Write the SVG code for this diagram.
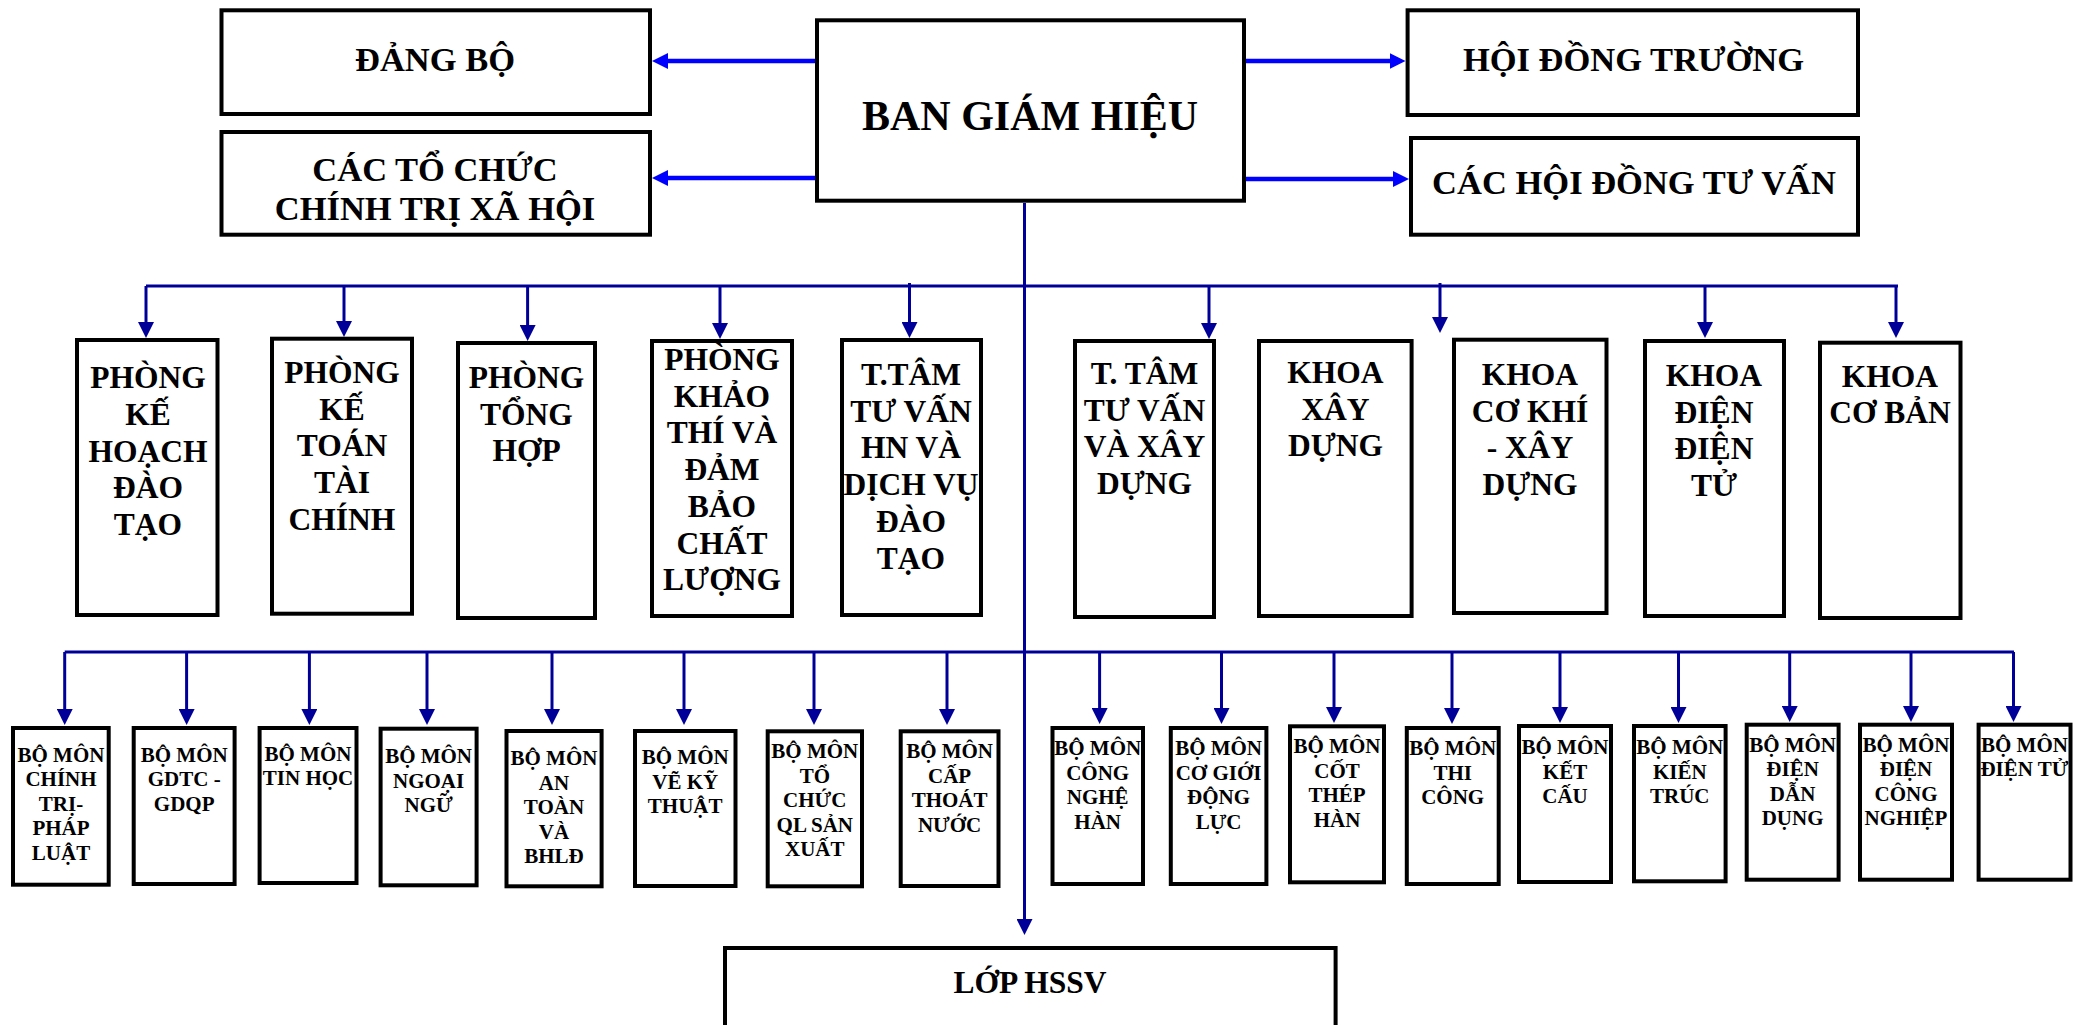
<svg xmlns="http://www.w3.org/2000/svg" width="2086" height="1025" viewBox="0 0 2086 1025">
<style>
.box{fill:#fff;stroke:#000;stroke-width:4}
.t{font-family:"Liberation Serif","Times New Roman",serif;font-weight:bold;text-anchor:middle;fill:#000}
.f42{font-size:42px}
.f34{font-size:34.5px}
.f31{font-size:31.5px}
.f21{font-size:21px}
.c{stroke:#000099;stroke-width:3;fill:none}
.cb{stroke:#0000FF;stroke-width:4.5;fill:none}
</style>
<defs>
<marker id="ah" markerUnits="userSpaceOnUse" markerWidth="16" markerHeight="16" refX="8" refY="8" orient="auto"><path d="M0,0 L16,8 L0,16 z" fill="#000099"/></marker>
<marker id="ahb" markerUnits="userSpaceOnUse" markerWidth="16" markerHeight="16" refX="8" refY="8" orient="auto"><path d="M0,0 L16,8 L0,16 z" fill="#0000FF"/></marker>
</defs>
<rect width="2086" height="1025" fill="#fff"/>

<g id="connectors">
<line class="cb" x1="815" y1="61" x2="660" y2="61" marker-end="url(#ahb)"/>
<line class="cb" x1="815" y1="178" x2="660" y2="178" marker-end="url(#ahb)"/>
<line class="cb" x1="1246" y1="61" x2="1397.5" y2="61" marker-end="url(#ahb)"/>
<line class="cb" x1="1244" y1="179" x2="1401" y2="179" marker-end="url(#ahb)"/>
<line class="c" x1="1024.5" y1="203" x2="1024.5" y2="927" marker-end="url(#ah)"/>
<line class="c" x1="146" y1="286" x2="1898" y2="286"/>
<line class="c" x1="146" y1="286" x2="146" y2="330" marker-end="url(#ah)"/>
<line class="c" x1="344" y1="286" x2="344" y2="329" marker-end="url(#ah)"/>
<line class="c" x1="527.6" y1="286" x2="527.6" y2="333" marker-end="url(#ah)"/>
<line class="c" x1="720" y1="286" x2="720" y2="331" marker-end="url(#ah)"/>
<line class="c" x1="909.5" y1="283" x2="909.5" y2="330" marker-end="url(#ah)"/>
<line class="c" x1="1209" y1="286" x2="1209" y2="331" marker-end="url(#ah)"/>
<line class="c" x1="1440" y1="283" x2="1440" y2="325" marker-end="url(#ah)"/>
<line class="c" x1="1705" y1="286" x2="1705" y2="330" marker-end="url(#ah)"/>
<line class="c" x1="1896" y1="286" x2="1896" y2="330" marker-end="url(#ah)"/>
<line class="c" x1="64.7" y1="652" x2="2014" y2="652"/>
<line class="c" x1="64.7" y1="652" x2="64.7" y2="717" marker-end="url(#ah)"/>
<line class="c" x1="186.6" y1="652" x2="186.6" y2="717" marker-end="url(#ah)"/>
<line class="c" x1="309.4" y1="652" x2="309.4" y2="717" marker-end="url(#ah)"/>
<line class="c" x1="427" y1="652" x2="427" y2="717" marker-end="url(#ah)"/>
<line class="c" x1="552" y1="652" x2="552" y2="717" marker-end="url(#ah)"/>
<line class="c" x1="684" y1="652" x2="684" y2="717" marker-end="url(#ah)"/>
<line class="c" x1="814" y1="652" x2="814" y2="717" marker-end="url(#ah)"/>
<line class="c" x1="947" y1="652" x2="947" y2="717" marker-end="url(#ah)"/>
<line class="c" x1="1099.6" y1="652" x2="1099.6" y2="716" marker-end="url(#ah)"/>
<line class="c" x1="1221.5" y1="652" x2="1221.5" y2="716" marker-end="url(#ah)"/>
<line class="c" x1="1334" y1="652" x2="1334" y2="715" marker-end="url(#ah)"/>
<line class="c" x1="1452" y1="652" x2="1452" y2="716" marker-end="url(#ah)"/>
<line class="c" x1="1560" y1="652" x2="1560" y2="715" marker-end="url(#ah)"/>
<line class="c" x1="1678.5" y1="652" x2="1678.5" y2="715" marker-end="url(#ah)"/>
<line class="c" x1="1789.7" y1="652" x2="1789.7" y2="714" marker-end="url(#ah)"/>
<line class="c" x1="1911" y1="652" x2="1911" y2="714" marker-end="url(#ah)"/>
<line class="c" x1="2013.5" y1="652" x2="2013.5" y2="714" marker-end="url(#ah)"/>
</g>

<g id="dang-bo"><rect class="box" x="221.5" y="10.3" width="428.5" height="103.7"/><text class="t f34" x="435" y="71">ĐẢNG BỘ</text></g>
<g id="to-chuc"><rect class="box" x="221.5" y="132" width="428.5" height="102.7"/><text class="t f34" x="435"><tspan x="435" y="181">CÁC TỔ CHỨC</tspan><tspan x="435" y="220">CHÍNH TRỊ XÃ HỘI</tspan></text></g>
<g id="ban-giam-hieu"><rect class="box" x="817" y="20.3" width="427" height="180.4"/><text class="t f42" x="1030" y="130">BAN GIÁM HIỆU</text></g>
<g id="hoi-dong-truong"><rect class="box" x="1407.6" y="10.3" width="450.4" height="104.7"/><text class="t f34" x="1633.5" y="71">HỘI ĐỒNG TRƯỜNG</text></g>
<g id="hoi-dong-tu-van"><rect class="box" x="1411" y="138" width="447" height="96.7"/><text class="t f34" x="1634" y="194">CÁC HỘI ĐỒNG TƯ VẤN</text></g>

<g id="phong-kh-dt"><rect class="box" x="77" y="340" width="140.5" height="275"/><text class="t f31"><tspan x="148" y="388.3">PHÒNG</tspan><tspan x="148" y="425">KẾ</tspan><tspan x="148" y="461.7">HOẠCH</tspan><tspan x="148" y="498.4">ĐÀO</tspan><tspan x="148" y="535.1">TẠO</tspan></text></g>
<g id="phong-kt-tc"><rect class="box" x="272" y="338.7" width="140" height="275"/><text class="t f31"><tspan x="342" y="383">PHÒNG</tspan><tspan x="342" y="419.7">KẾ</tspan><tspan x="342" y="456.4">TOÁN</tspan><tspan x="342" y="493.1">TÀI</tspan><tspan x="342" y="529.8">CHÍNH</tspan></text></g>
<g id="phong-th"><rect class="box" x="458" y="343" width="137" height="275"/><text class="t f31"><tspan x="526.5" y="388">PHÒNG</tspan><tspan x="526.5" y="424.7">TỔNG</tspan><tspan x="526.5" y="461.4">HỢP</tspan></text></g>
<g id="phong-kt-dbcl"><rect class="box" x="652" y="341" width="140" height="275"/><text class="t f31"><tspan x="722" y="370">PHÒNG</tspan><tspan x="722" y="406.7">KHẢO</tspan><tspan x="722" y="443.4">THÍ VÀ</tspan><tspan x="722" y="480.1">ĐẢM</tspan><tspan x="722" y="516.8">BẢO</tspan><tspan x="722" y="553.5">CHẤT</tspan><tspan x="722" y="590.2">LƯỢNG</tspan></text></g>
<g id="ttam-tv-hn"><rect class="box" x="842" y="340" width="139" height="275"/><text class="t f31"><tspan x="911" y="385">T.TÂM</tspan><tspan x="911" y="421.7">TƯ VẤN</tspan><tspan x="911" y="458.4">HN VÀ</tspan><tspan x="911" y="495.1">DỊCH VỤ</tspan><tspan x="911" y="531.8">ĐÀO</tspan><tspan x="911" y="568.5">TẠO</tspan></text></g>
<g id="ttam-tv-xd"><rect class="box" x="1075" y="341" width="139" height="276"/><text class="t f31"><tspan x="1144.5" y="384">T. TÂM</tspan><tspan x="1144.5" y="420.7">TƯ VẤN</tspan><tspan x="1144.5" y="457.4">VÀ XÂY</tspan><tspan x="1144.5" y="494.1">DỰNG</tspan></text></g>
<g id="khoa-xd"><rect class="box" x="1259" y="341" width="152.6" height="275"/><text class="t f31"><tspan x="1335.5" y="383">KHOA</tspan><tspan x="1335.5" y="419.7">XÂY</tspan><tspan x="1335.5" y="456.4">DỰNG</tspan></text></g>
<g id="khoa-ck-xd"><rect class="box" x="1454" y="339.7" width="152.5" height="273.3"/><text class="t f31"><tspan x="1530" y="385">KHOA</tspan><tspan x="1530" y="421.7">CƠ KHÍ</tspan><tspan x="1530" y="458.4">- XÂY</tspan><tspan x="1530" y="495.1">DỰNG</tspan></text></g>
<g id="khoa-ddt"><rect class="box" x="1645" y="341" width="139" height="275"/><text class="t f31"><tspan x="1714" y="386">KHOA</tspan><tspan x="1714" y="422.7">ĐIỆN</tspan><tspan x="1714" y="459.4">ĐIỆN</tspan><tspan x="1714" y="496.1">TỬ</tspan></text></g>
<g id="khoa-cb"><rect class="box" x="1820" y="342.7" width="140.5" height="275.3"/><text class="t f31"><tspan x="1890" y="386.7">KHOA</tspan><tspan x="1890" y="423.4">CƠ BẢN</tspan></text></g>

<g id="bm-ctpl"><rect class="box" x="13" y="728" width="95.7" height="156.7"/><text class="t f21"><tspan x="61" y="761.5">BỘ MÔN</tspan><tspan x="61" y="786">CHÍNH</tspan><tspan x="61" y="810.5">TRỊ-</tspan><tspan x="61" y="835">PHÁP</tspan><tspan x="61" y="859.5">LUẬT</tspan></text></g>
<g id="bm-gdtc"><rect class="box" x="133.7" y="728" width="100.9" height="156"/><text class="t f21"><tspan x="184.2" y="761.5">BỘ MÔN</tspan><tspan x="184.2" y="786">GDTC -</tspan><tspan x="184.2" y="810.5">GDQP</tspan></text></g>
<g id="bm-tin"><rect class="box" x="259.6" y="728" width="96.9" height="155"/><text class="t f21"><tspan x="308" y="760.7">BỘ MÔN</tspan><tspan x="308" y="785.2">TIN HỌC</tspan></text></g>
<g id="bm-nn"><rect class="box" x="380.6" y="728.7" width="96" height="156.6"/><text class="t f21"><tspan x="428.6" y="763">BỘ MÔN</tspan><tspan x="428.6" y="787.5">NGOẠI</tspan><tspan x="428.6" y="812">NGỮ</tspan></text></g>
<g id="bm-at"><rect class="box" x="506.5" y="731" width="95.1" height="155.3"/><text class="t f21"><tspan x="554" y="765">BỘ MÔN</tspan><tspan x="554" y="789.5">AN</tspan><tspan x="554" y="814">TOÀN</tspan><tspan x="554" y="838.5">VÀ</tspan><tspan x="554" y="863">BHLĐ</tspan></text></g>
<g id="bm-vkt"><rect class="box" x="635" y="731" width="100.5" height="155"/><text class="t f21"><tspan x="685.2" y="764">BỘ MÔN</tspan><tspan x="685.2" y="788.5">VẼ KỸ</tspan><tspan x="685.2" y="813">THUẬT</tspan></text></g>
<g id="bm-tcqlsx"><rect class="box" x="767.7" y="731.3" width="94.3" height="155"/><text class="t f21"><tspan x="814.8" y="758.3">BỘ MÔN</tspan><tspan x="814.8" y="782.8">TỔ</tspan><tspan x="814.8" y="807.3">CHỨC</tspan><tspan x="814.8" y="831.8">QL SẢN</tspan><tspan x="814.8" y="856.3">XUẤT</tspan></text></g>
<g id="bm-ctn"><rect class="box" x="900.7" y="731.3" width="97.8" height="154.7"/><text class="t f21"><tspan x="949.6" y="758.3">BỘ MÔN</tspan><tspan x="949.6" y="782.8">CẤP</tspan><tspan x="949.6" y="807.3">THOÁT</tspan><tspan x="949.6" y="831.8">NƯỚC</tspan></text></g>
<g id="bm-cnh"><rect class="box" x="1052.5" y="728" width="90.5" height="156"/><text class="t f21"><tspan x="1097.7" y="755">BỘ MÔN</tspan><tspan x="1097.7" y="779.5">CÔNG</tspan><tspan x="1097.7" y="804">NGHỆ</tspan><tspan x="1097.7" y="828.5">HÀN</tspan></text></g>
<g id="bm-cgdl"><rect class="box" x="1170.8" y="728" width="95.6" height="156"/><text class="t f21"><tspan x="1218.6" y="755">BỘ MÔN</tspan><tspan x="1218.6" y="779.5">CƠ GIỚI</tspan><tspan x="1218.6" y="804">ĐỘNG</tspan><tspan x="1218.6" y="828.5">LỰC</tspan></text></g>
<g id="bm-cth"><rect class="box" x="1290" y="726.3" width="94" height="156"/><text class="t f21"><tspan x="1337" y="753.3">BỘ MÔN</tspan><tspan x="1337" y="777.8">CỐT</tspan><tspan x="1337" y="802.3">THÉP</tspan><tspan x="1337" y="826.8">HÀN</tspan></text></g>
<g id="bm-tc"><rect class="box" x="1406.8" y="728" width="91.9" height="156"/><text class="t f21"><tspan x="1452.7" y="755">BỘ MÔN</tspan><tspan x="1452.7" y="779.5">THI</tspan><tspan x="1452.7" y="804">CÔNG</tspan></text></g>
<g id="bm-kc"><rect class="box" x="1519" y="726" width="92" height="156"/><text class="t f21"><tspan x="1565" y="754">BỘ MÔN</tspan><tspan x="1565" y="778.5">KẾT</tspan><tspan x="1565" y="803">CẤU</tspan></text></g>
<g id="bm-kt"><rect class="box" x="1634" y="726" width="91.6" height="155.3"/><text class="t f21"><tspan x="1679.8" y="754">BỘ MÔN</tspan><tspan x="1679.8" y="778.5">KIẾN</tspan><tspan x="1679.8" y="803">TRÚC</tspan></text></g>
<g id="bm-ddd"><rect class="box" x="1746.7" y="724.7" width="91.9" height="155"/><text class="t f21"><tspan x="1792.6" y="751.7">BỘ MÔN</tspan><tspan x="1792.6" y="776.2">ĐIỆN</tspan><tspan x="1792.6" y="800.7">DẪN</tspan><tspan x="1792.6" y="825.2">DỤNG</tspan></text></g>
<g id="bm-dcn"><rect class="box" x="1860" y="724.7" width="92" height="155"/><text class="t f21"><tspan x="1906" y="751.7">BỘ MÔN</tspan><tspan x="1906" y="776.2">ĐIỆN</tspan><tspan x="1906" y="800.7">CÔNG</tspan><tspan x="1906" y="825.2">NGHIỆP</tspan></text></g>
<g id="bm-dt"><rect class="box" x="1978.6" y="724.7" width="91.9" height="155"/><text class="t f21"><tspan x="2024.5" y="751.7">BỘ MÔN</tspan><tspan x="2024.5" y="776.2">ĐIỆN TỬ</tspan></text></g>

<g id="lop-hssv"><rect class="box" x="725" y="948" width="610.6" height="90"/><text class="t f31" x="1030" y="993">LỚP HSSV</text></g>
</svg>
